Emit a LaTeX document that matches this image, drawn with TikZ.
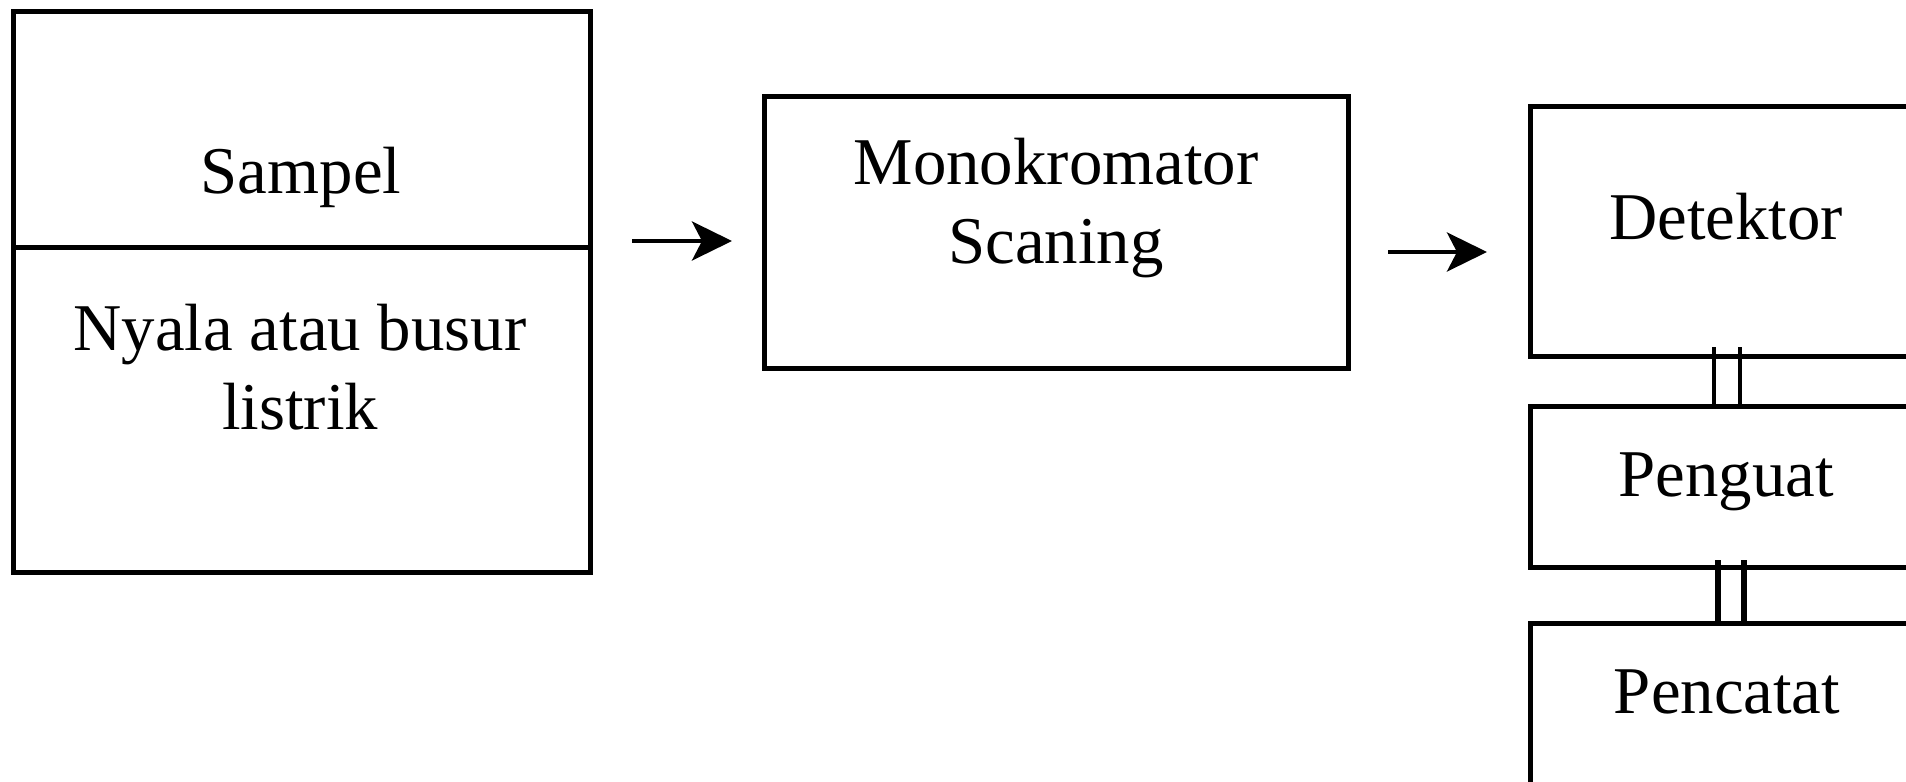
\documentclass[tikz,border=0pt]{standalone}
\usepackage{fontspec}
\setmainfont{Liberation Serif}
\usetikzlibrary{arrows.meta, positioning}

\begin{document}
\begin{tikzpicture}[x=0.01cm, y=-0.01cm, line width=1.4pt,
            >={Stealth[length=0.4cm, width=0.39cm, inset=0.1cm]},
            font=\fontsize{19}{22.5}\selectfont]
            \tikzstyle{blok}=[draw, rectangle, inner sep=0pt, outer sep=0pt]
            \tikzstyle{teks}=[anchor=base, inner sep=0pt]
            \tikzstyle{dua}=[align=center, inner sep=0pt]
            \tikzstyle{panah}=[->, line width=1.1pt]

            \useasboundingbox (0,0) rectangle (1906,782);
            \clip (0,0) rectangle (1906,782);

            % sumber: sampel + nyala
            \node[blok, minimum width=5.76cm, minimum height=2.35cm] (S) at (302,129.5) {};
            \node[blok, minimum width=5.76cm, minimum height=3.25cm] (N) [below=0cm of S] {};
            \node[teks] (tS) at (301,193) {Sampel};
            \node[dua]  (tN) at (300,367) {Nyala atau busur\\listrik};

            % monokromator
            \node[blok, minimum width=5.83cm, minimum height=2.71cm] (M) at (1056.5,232.5) {};
            \node[dua]  (tM) at (1056,208) {Monokromator\\Scaning};

            % detektor, penguat, pencatat
            \node[blok, minimum width=3.9cm, minimum height=2.49cm] (D) at (1726,231.5) {};
            \node[blok, minimum width=3.9cm, minimum height=1.61cm] (P) [below=0.5cm of D] {};
            \node[blok, minimum width=3.9cm, minimum height=2.07cm] (C) [below=0.56cm of P] {};
            \node[teks] (tD) at (1726,240) {Detektor};
            \node[teks] (tP) at (1726,496) {Penguat};
            \node[teks] (tC) at (1727,713) {Pencatat};

            % panah
            \coordinate (a1) at (632,241);
            \coordinate (a2) at (732,241);
            \coordinate (b1) at (1388,252);
            \coordinate (b2) at (1487,252);
            \draw[panah] (a1) -- (a2);
            \draw[panah] (b1) -- (b2);

            % kabel
            \draw[line width=1.2pt] ([xshift=-0.12cm, yshift=0.09cm]D.south) -- ([xshift=-0.12cm]P.north);
            \draw[line width=1.2pt] ([xshift=0.14cm, yshift=0.09cm]D.south) -- ([xshift=0.14cm]P.north);
            \draw[line width=1.7pt] ([xshift=-0.08cm, yshift=0.07cm]P.south) -- ([xshift=-0.08cm]C.north);
            \draw[line width=1.7pt] ([xshift=0.18cm, yshift=0.07cm]P.south) -- ([xshift=0.18cm]C.north);

        \end{tikzpicture}
\end{document}
